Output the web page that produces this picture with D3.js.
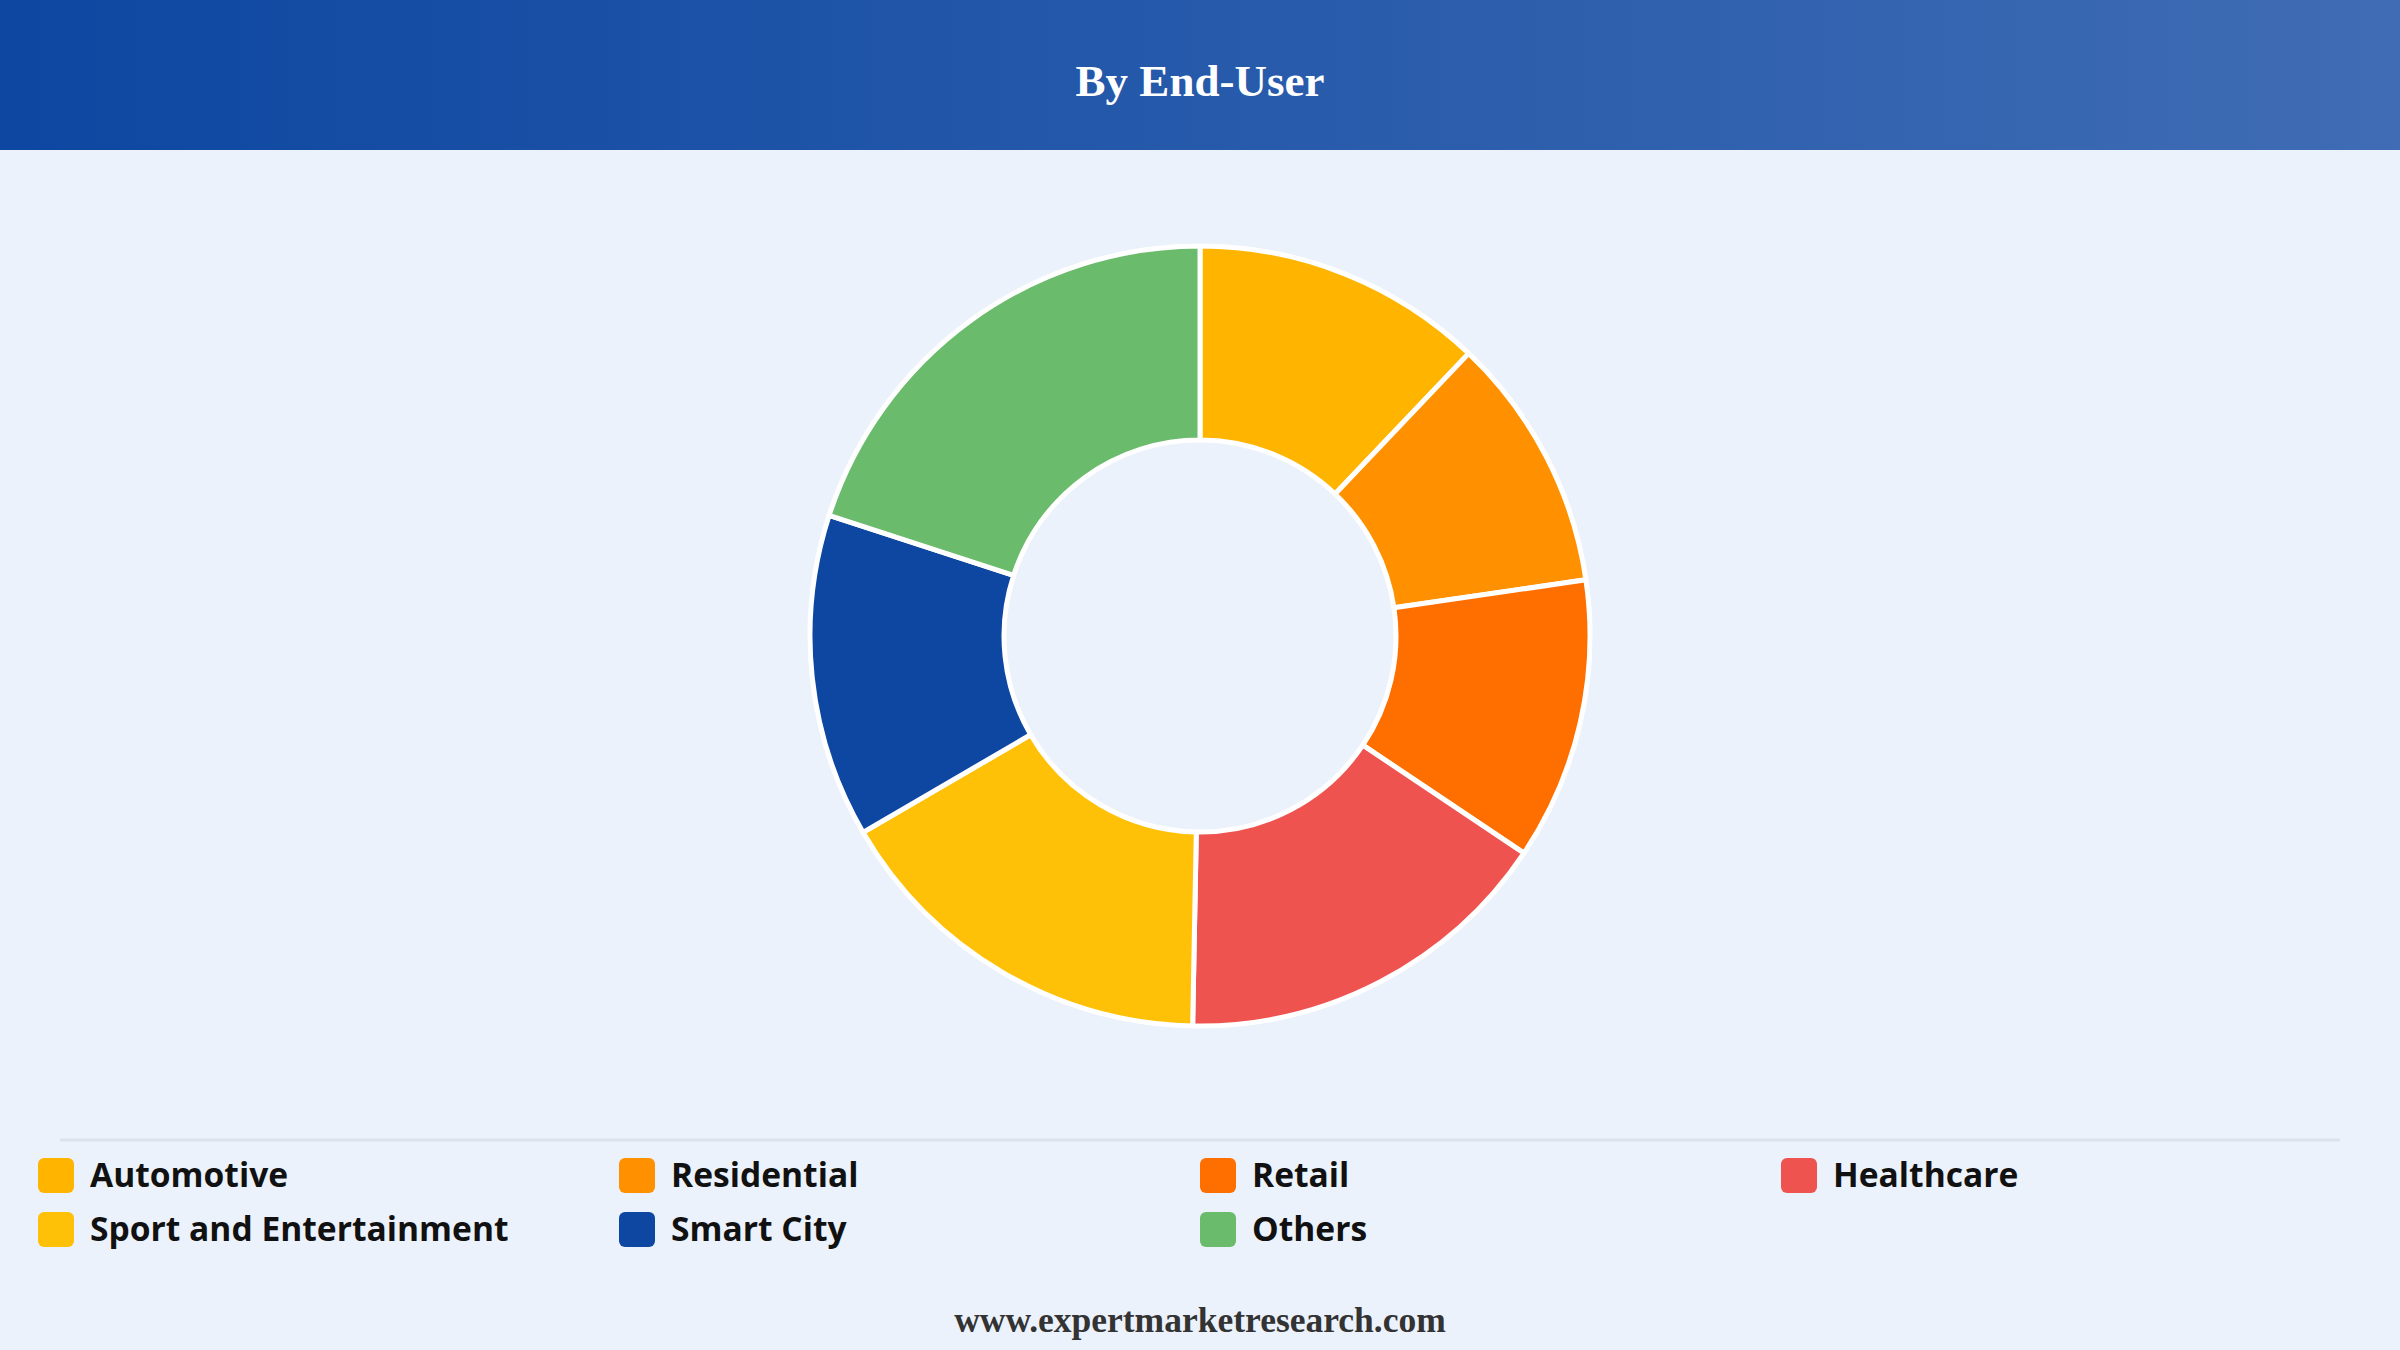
<!DOCTYPE html>
<html>
<head>
<meta charset="utf-8">
<script src="https://cdn.jsdelivr.net/npm/d3@7"></script>
<style>
  html, body { margin: 0; padding: 0; background: #ebf2fc; }
  svg { display: block; }
</style>
</head>
<body>
<svg id="chart" width="2400" height="1350"></svg>
<script>
var categories = ["Automotive", "Residential", "Retail", "Healthcare", "Sport and Entertainment", "Smart City", "Others"];
var shares = [12.1, 10.6, 11.7, 15.9, 16.3, 13.4, 20.0];
var colours = ["#ffb500", "#ff9100", "#ff6f00", "#ef5350", "#ffc107", "#0d47a1", "#6abb6b"];

var titleText = "By End-User";
var footerText = "www.expertmarketresearch.com";

var W = 2400, H = 1350;
var svg = d3.select("#chart");

// header band
var defs = svg.append("defs");
var grad = defs.append("linearGradient").attr("id", "hdr").attr("x1", "0%").attr("x2", "100%");
grad.append("stop").attr("offset", "0%").attr("stop-color", "#0d47a1");
grad.append("stop").attr("offset", "100%").attr("stop-color", "#3f6cb4");

svg.append("rect").attr("width", W).attr("height", H).attr("fill", "#ebf2fc");
svg.append("rect").attr("width", W).attr("height", 150).attr("fill", "url(#hdr)");
svg.append("text")
    .attr("x", W / 2).attr("y", 96)
    .attr("text-anchor", "middle")
    .attr("font-family", "'Liberation Serif', 'Times New Roman', serif")
    .attr("font-weight", "bold")
    .attr("font-size", "45px")
    .attr("fill", "#fff")
    .text(titleText);

// donut
var data = categories.map(function (c, i) { return {name: c, value: shares[i], colour: colours[i]}; });
var pie = d3.pie().sort(null).value(function (d) { return d.value; });
var arc = d3.arc().innerRadius(196).outerRadius(390);

var g = svg.append("g").attr("transform", "translate(" + 1200 + "," + 636 + ")");
g.selectAll("path")
    .data(pie(data))
    .enter().append("path")
    .attr("d", arc)
    .attr("fill", function (d) { return d.data.colour; })
    .attr("stroke", "#fff")
    .attr("stroke-width", 5)
    .attr("stroke-linejoin", "round");

// separator line above legend
svg.append("line")
    .attr("x1", 60).attr("x2", 2340)
    .attr("y1", 1140).attr("y2", 1140)
    .attr("stroke", "#dde2ea").attr("stroke-width", 3);

// legend, 4 columns
var colX = d3.scalePoint().domain([0, 1, 2, 3]).range([38, 1781]);
var rowY = d3.scalePoint().domain([0, 1]).range([1158, 1212]);

var leg = svg.append("g").selectAll("g")
    .data(data)
    .enter().append("g")
    .attr("transform", function (d, i) {
        return "translate(" + colX(i % 4) + "," + rowY(Math.floor(i / 4)) + ")";
    });
leg.append("rect")
    .attr("width", 36).attr("height", 35)
    .attr("rx", 6).attr("ry", 6)
    .attr("fill", function (d) { return d.colour; });
leg.append("text")
    .attr("x", 52).attr("y", 29)
    .attr("font-family", "'Open Sans', 'Noto Sans', sans-serif")
    .attr("font-weight", "bold")
    .attr("font-size", "33.6px")
    .attr("fill", "#111")
    .text(function (d) { return d.name; });

// footer
svg.append("text")
    .attr("x", W / 2).attr("y", 1332)
    .attr("text-anchor", "middle")
    .attr("font-family", "'Liberation Serif', 'Times New Roman', serif")
    .attr("font-weight", "bold")
    .attr("font-size", "35.5px")
    .attr("fill", "#333")
    .text(footerText);
</script>
</body>
</html>
